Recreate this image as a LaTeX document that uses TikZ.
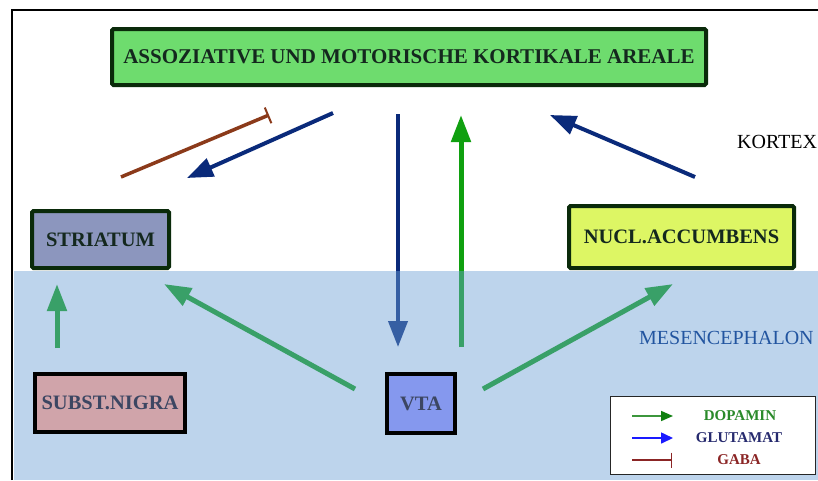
\documentclass[tikz,border=0pt]{standalone}
\usepackage{fontspec}
\setmainfont{Liberation Serif}
\usetikzlibrary{arrows.meta}
\definecolor{topfill}{RGB}{110,220,110}
\definecolor{strfill}{RGB}{140,150,190}
\definecolor{nucfill}{RGB}{221,246,100}
\definecolor{snfill}{RGB}{208,164,170}
\definecolor{vtafill}{RGB}{133,152,238}
\definecolor{boxedge}{RGB}{10,42,10}
\definecolor{boxtext}{RGB}{20,40,30}
\definecolor{lowtext}{RGB}{60,70,98}
\definecolor{navy}{RGB}{10,42,122}
\definecolor{dopa}{RGB}{16,160,16}
\definecolor{gabac}{RGB}{139,58,26}
\definecolor{mesbg}{RGB}{109,160,213}
\definecolor{mesen}{RGB}{34,85,160}
\definecolor{lgreen}{RGB}{60,150,60}
\definecolor{lgreenhead}{RGB}{16,128,16}
\definecolor{lblue}{RGB}{26,26,255}
\definecolor{lgabatext}{RGB}{139,37,37}
\definecolor{lglutext}{RGB}{38,42,110}
\definecolor{ldopatext}{RGB}{42,138,42}
\tikzset{
  areabox/.style={draw=boxedge, line width=4pt, rounded corners=1.5pt, inner sep=0pt,
    font=\fontsize{20.5}{24}\selectfont\bfseries, text=boxtext},
  lowbox/.style={draw=black, line width=4pt, inner sep=0pt,
    font=\fontsize{20.5}{24}\selectfont\bfseries, text=lowtext},
  glu/.style={draw=navy, line width=4pt, -{Triangle[length=26pt,width=19pt]}},
  dop/.style={draw=dopa, line width=5pt, -{Triangle[length=27pt,width=19pt]}},
  gab/.style={draw=gabac, line width=3.5pt, -{Bar[width=17pt,line width=2pt]}},
  legtext/.style={font=\fontsize{15}{16}\selectfont\bfseries, anchor=center},
}
\begin{document}
\begin{tikzpicture}[x=1pt,y=-1pt]
\useasboundingbox (0,0) rectangle (818,480);
\fill[white] (0,0) rectangle (818,480);

% connector end points
\coordinate (gabaS) at (121,177);
\coordinate (gabaE) at (269,115);
\coordinate (gluLS) at (333,113);
\coordinate (gluLE) at (187,178);
\coordinate (gluDS) at (398,114);
\coordinate (gluDE) at (398,347);
\coordinate (dopUS) at (461,347);
\coordinate (dopUE) at (461,115);
\coordinate (gluRS) at (695,177);
\coordinate (gluRE) at (550,115);
\coordinate (dopLS) at (355,389);
\coordinate (dopLE) at (164,284);
\coordinate (dopRS) at (483,389);
\coordinate (dopRE) at (673,284);
\coordinate (dopSS) at (57,348);
\coordinate (dopSE) at (57,284);

% connectors
\draw[gab] (gabaS) -- (gabaE);
\draw[glu] (gluLS) -- (gluLE);
\draw[glu] (gluDS) -- (gluDE);
\draw[dop] (dopUS) -- (dopUE);
\draw[glu] (gluRS) -- (gluRE);
\draw[dop] (dopLS) -- (dopLE);
\draw[dop] (dopRS) -- (dopRE);
\draw[dop] (dopSS) -- (dopSE);

% mesencephalon region (translucent layer)
\fill[fill=mesbg, fill opacity=0.45] (14,271) rectangle (818,480);

% boxes
\node[areabox, fill=topfill, minimum width=594pt, minimum height=56pt,
  font=\fontsize{21}{24}\selectfont\bfseries] (cortex) at (409,57)
  {ASSOZIATIVE UND MOTORISCHE KORTIKALE AREALE};
\node[areabox, fill=strfill, minimum width=137pt, minimum height=57pt] (striatum) at (100.5,239.5) {STRIATUM};
\node[areabox, fill=nucfill, minimum width=225pt, minimum height=62pt] (nucl) at (681.5,237) {NUCL.ACCUMBENS};
\node[lowbox, fill=snfill, minimum width=150pt, minimum height=58pt] (sn) at (110,403) {SUBST.NIGRA};
\node[lowbox, fill=vtafill, minimum width=68pt, minimum height=59pt] (vta) at (421,403.5) {VTA};

% region labels
\node[anchor=west, inner sep=0pt, font=\fontsize{20}{22}\selectfont] (kortex) at (737,142) {KORTEX};
\node[anchor=west, inner sep=0pt, font=\fontsize{20}{22}\selectfont, text=mesen] (mesen) at (639,338) {MESENCEPHALON};

% legend
\node[draw=black!85, line width=1.2pt, fill=white, minimum width=205pt, minimum height=78pt, inner sep=0pt] (legend) at (713,435.5) {};
\coordinate (l1a) at (632,416); \coordinate (l1b) at (673,416);
\coordinate (l2a) at (632,438); \coordinate (l2b) at (673,438);
\coordinate (l3a) at (632,460); \coordinate (l3b) at (672,460);
\draw[draw=lgreen, line width=1.6pt, -{Triangle[length=12pt,width=10pt,color=lgreenhead]}] (l1a) -- (l1b);
\draw[draw=lblue, line width=1.6pt, -{Triangle[length=12pt,width=11pt]}] (l2a) -- (l2b);
\draw[draw=lgabatext, line width=1.2pt, -{Bar[width=15pt,line width=1.2pt]}] (l3a) -- (l3b);
\node[legtext, text=ldopatext] (tdopa) at (740,416) {DOPAMIN};
\node[legtext, text=lglutext] (tglu) at (739,438) {GLUTAMAT};
\node[legtext, text=lgabatext] (tgaba) at (739,460) {GABA};

% frame
\draw[line width=2pt, black] (12,480) -- (12,10) -- (818,10);
\end{tikzpicture}
\end{document}
